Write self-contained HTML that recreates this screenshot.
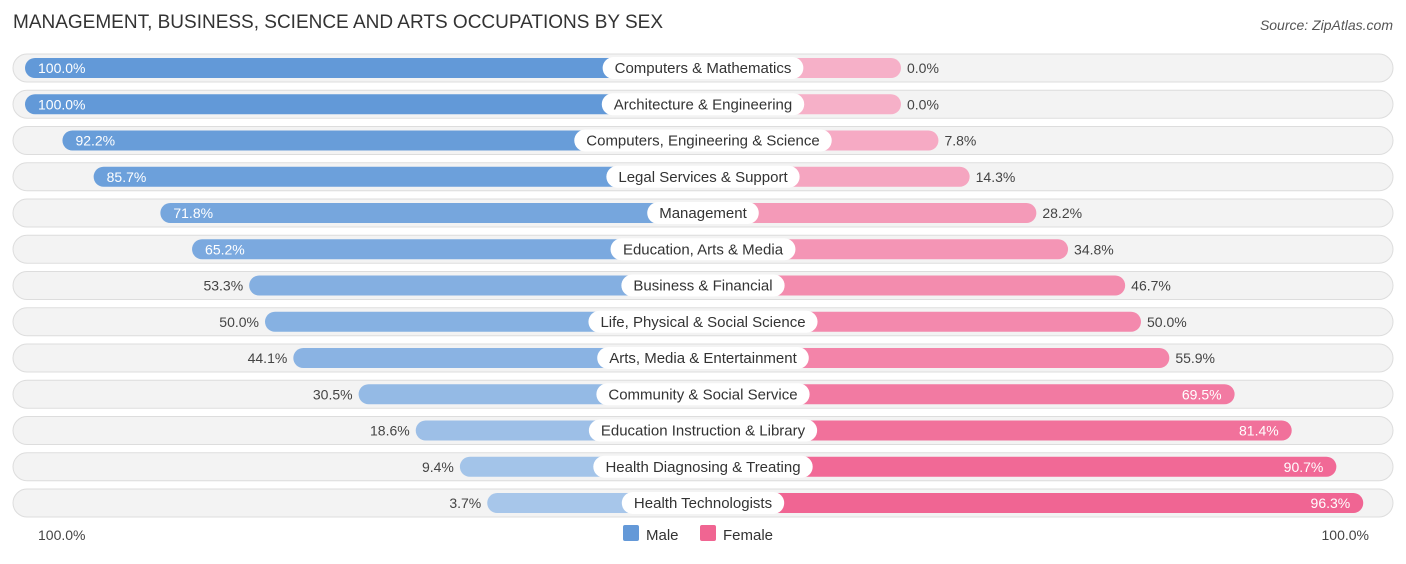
<!DOCTYPE html>
<html><head><meta charset="utf-8"><style>
body{margin:0;background:#fff;font-family:"Liberation Sans",sans-serif;}
svg text{font-family:"Liberation Sans",sans-serif;}
</style></head><body>
<svg id="chart" width="1406" height="559" xmlns="http://www.w3.org/2000/svg">
<text x="13" y="28" font-size="19" fill="#333">MANAGEMENT, BUSINESS, SCIENCE AND ARTS OCCUPATIONS BY SEX</text>
<text x="1393" y="30" font-size="14" fill="#555" font-style="italic" text-anchor="end">Source: ZipAtlas.com</text>
<g id="rows"></g>
<text x="38" y="540" font-size="14" fill="#444">100.0%</text>
<text x="1369" y="540" font-size="14" fill="#444" text-anchor="end">100.0%</text>
<g>
<rect x="623" y="525" width="16" height="16" rx="2" fill="#6499d8"/>
<text x="646" y="540" font-size="15" fill="#333">Male</text>
<rect x="700" y="525" width="16" height="16" rx="2" fill="#f06592"/>
<text x="723" y="540" font-size="15" fill="#333">Female</text>
</g>
</svg>
<script>
const categories=["Computers & Mathematics","Architecture & Engineering","Computers, Engineering & Science","Legal Services & Support","Management","Education, Arts & Media","Business & Financial","Life, Physical & Social Science","Arts, Media & Entertainment","Community & Social Service","Education Instruction & Library","Health Diagnosing & Treating","Health Technologists"];
const maleValues=[100.0,100.0,92.2,85.7,71.8,65.2,53.3,50.0,44.1,30.5,18.6,9.4,3.7];
const femaleValues=[0.0,0.0,7.8,14.3,28.2,34.8,46.7,50.0,55.9,69.5,81.4,90.7,96.3];
const NS="http://www.w3.org/2000/svg";
const g=document.getElementById('rows');
const cx=703, scale=4.8, male0=505, female0=901, y0=68, step=36.25;
function xm(v){return male0-v*scale;}
function xf(v){return female0+v*scale;}
function rowY(i){return y0+i*step;}
function mix(a,b,t){return a.map((c,i)=>Math.round(c+(b[i]-c)*t));}
function col(c){return `rgb(${c[0]},${c[1]},${c[2]})`;}
function mk(tag,attrs){const e=document.createElementNS(NS,tag);for(const k in attrs)e.setAttribute(k,attrs[k]);return e;}
const meas=document.createElement('canvas').getContext('2d');meas.font='15px "Liberation Sans"';
categories.forEach((cat,i)=>{
  const y=rowY(i);
  const row=mk('g',{});
  
  
  const bg=mk('rect',{x:13,y:y-14,width:1380,height:28,rx:14,fill:'#f3f3f3',stroke:'#dddddd','stroke-width':1});
  
  
  row.appendChild(bg);
  const mv=maleValues[i], fv=femaleValues[i];
  const mc=col(mix([170,200,235],[98,153,216],mv/100));
  const fc=col(mix([246,176,200],[240,98,145],fv/100));
  const mb=mk('rect',{x:xm(mv),y:y-10,width:cx-xm(mv),height:20,rx:10,fill:mc});
  
  
  row.appendChild(mb);
  const fb=mk('rect',{x:cx,y:y-10,width:xf(fv)-cx,height:20,rx:10,fill:fc});
  
  
  row.appendChild(fb);
  const w=meas.measureText(cat).width+24;
  const lp=mk('rect',{x:cx-w/2,y:y-11,width:w,height:22,rx:11,fill:'#fff'});
  
  
  row.appendChild(lp);
  const lt=mk('text',{x:cx,y:y+5,'font-size':15,fill:'#333','text-anchor':'middle'});
  lt.textContent=cat;
  
  
  row.appendChild(lt);
  const inM=mv>=60;
  const mt=mk('text',{x:inM?xm(mv)+13:xm(mv)-6,y:y+5,'font-size':14,fill:inM?'#fff':'#444','text-anchor':inM?'start':'end'});
  mt.textContent=mv.toFixed(1)+'%';
  
  
  row.appendChild(mt);
  const inF=fv>=60;
  const ft=mk('text',{x:inF?xf(fv)-13:xf(fv)+6,y:y+5,'font-size':14,fill:inF?'#fff':'#444','text-anchor':inF?'end':'start'});
  ft.textContent=fv.toFixed(1)+'%';
  
  
  row.appendChild(ft);
  g.appendChild(row);
});
</script>
</body></html>
